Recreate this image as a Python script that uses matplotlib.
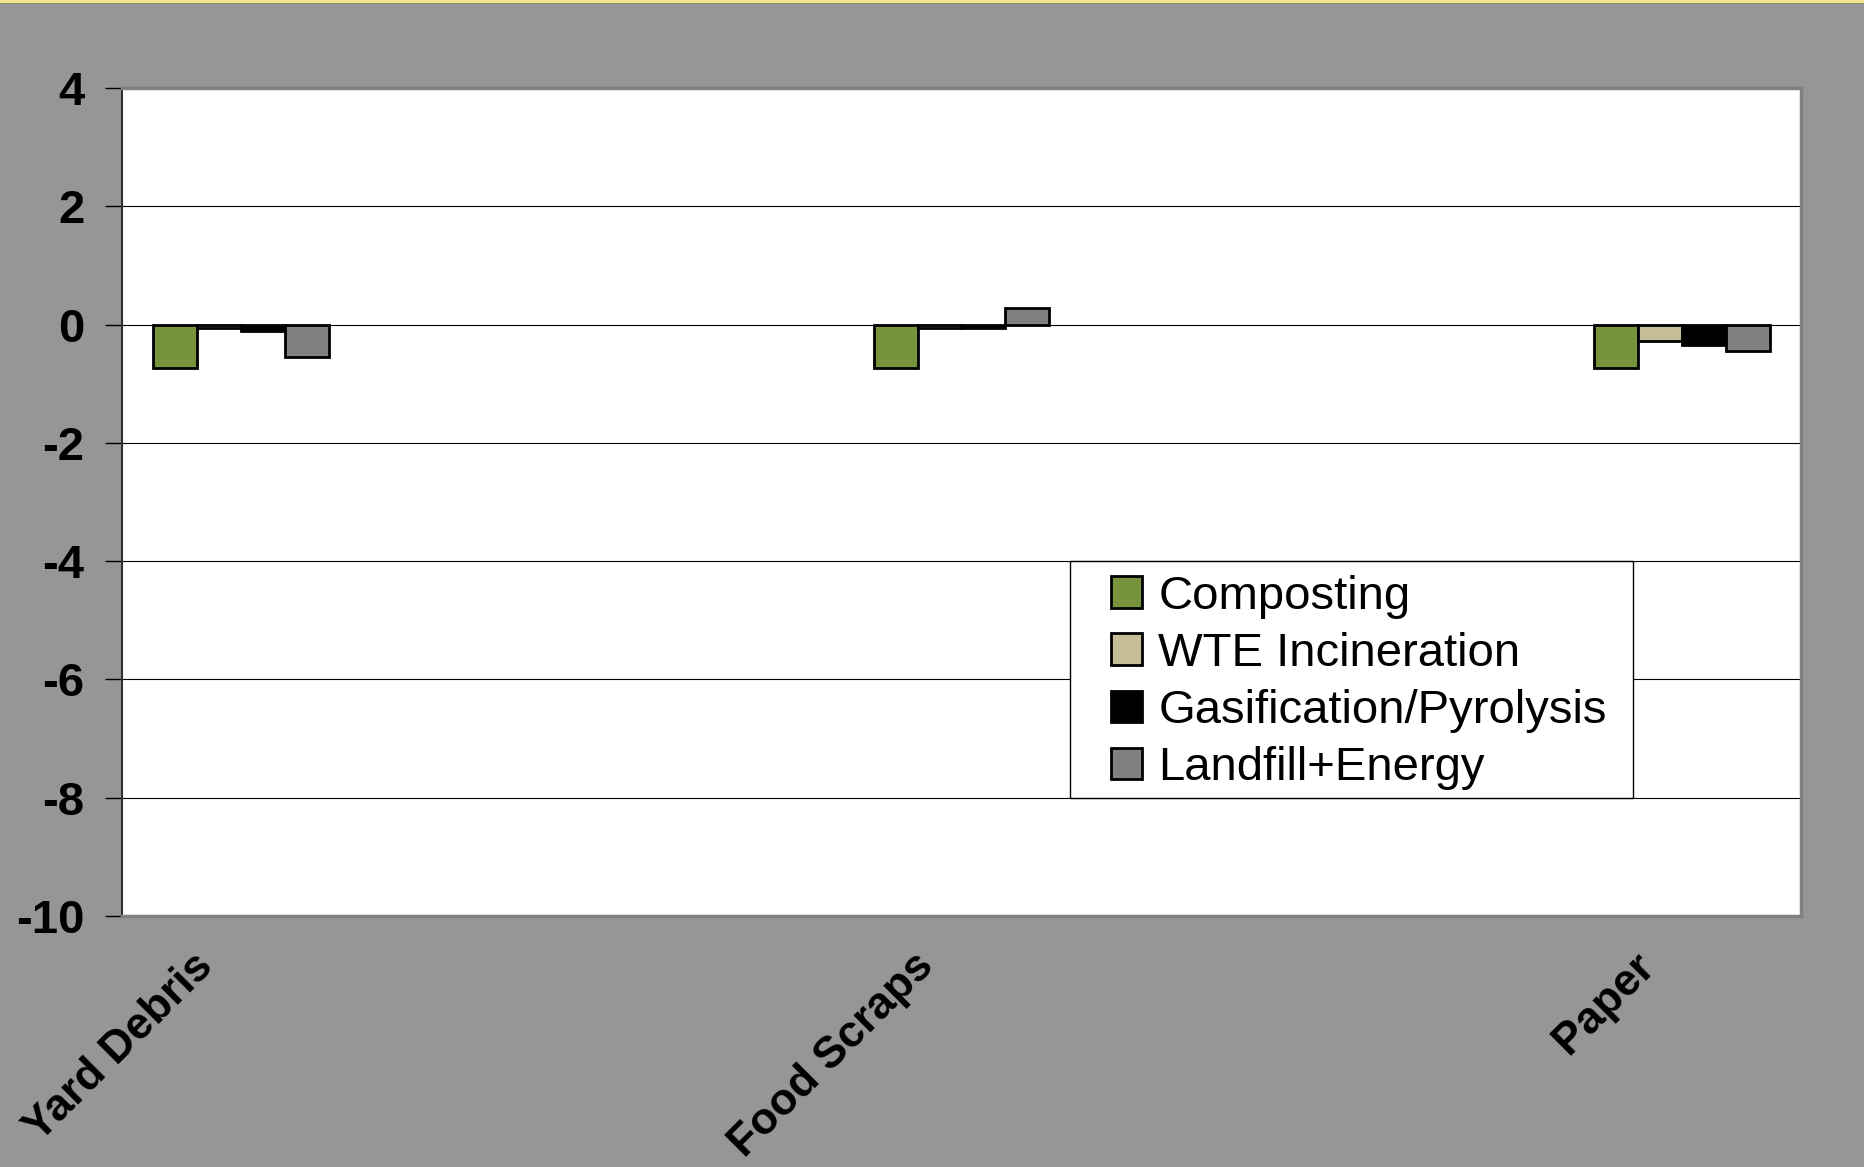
import numpy as np
import matplotlib.pyplot as plt
import matplotlib.transforms as mtransforms
from matplotlib.patches import Rectangle

plt.rcParams['font.family'] = ['Liberation Sans', 'DejaVu Sans']

# data
categories = ["Yard Debris", "Food Scraps", "Paper"]
series_names = ["Composting", "WTE Incineration", "Gasification/Pyrolysis", "Landfill+Energy"]
composting = [-0.74, -0.74, -0.74]
wte = [-0.05, -0.05, -0.28]
gasification = [-0.11, -0.05, -0.35]
landfill = [-0.55, 0.28, -0.44]
colors = ["#77933C", "#C4BD97", "#000000", "#808080"]
y_ticks = [4, 2, 0, -2, -4, -6, -8, -10]

W, H = 1865, 1167
fig = plt.figure(figsize=(W / 100, H / 100), dpi=100)
fig.patch.set_facecolor("#969696")

# thin yellow strip along the top
fig.add_artist(Rectangle((0, 1 - 3 / H), 1, 3 / H, transform=fig.transFigure,
                         facecolor="#F3E58C", edgecolor="none"))
fig.add_artist(Rectangle((0, 1 - 4 / H), 1, 1 / H, transform=fig.transFigure,
                         facecolor="#8a8a70", edgecolor="none"))

ax = fig.add_axes([122 / W, 1 - 916 / H, (1801 - 122) / W, (916 - 88) / H])
ax.set_facecolor("white")

x = np.arange(len(categories))
width = 0.061
all_series = [composting, wte, gasification, landfill]
for i, (vals, name, c) in enumerate(zip(all_series, series_names, colors)):
    ax.bar(x + (i - 1.5) * width, vals, width, color=c, edgecolor="black",
           linewidth=2.0, label=name, zorder=3)

ax.set_xlim(-0.165, 2.165)
ax.set_ylim(-10, 4)
ax.set_yticks(y_ticks)
ax.set_yticklabels([str(t) for t in y_ticks], fontsize=34, fontweight="bold")
ax.tick_params(axis="y", direction="out", length=12, width=1, pad=15, colors="black")
ax.set_xticks(x)
ax.set_xticklabels(categories, rotation=45, ha="right", fontsize=32, fontweight="bold")
ax.tick_params(axis="x", length=0, pad=21)
shift = mtransforms.ScaledTranslation(-20 / 100, 0, fig.dpi_scale_trans)
for lbl in ax.get_xticklabels():
    lbl.set_transform(lbl.get_transform() + shift)

ax.yaxis.grid(True, color="black", linewidth=0.8, zorder=0)
ax.set_axisbelow(True)

for side in ["top", "right", "bottom"]:
    ax.spines[side].set_color("#808080")
    ax.spines[side].set_linewidth(2.5)
ax.spines["left"].set_color("#303030")
ax.spines["left"].set_linewidth(1.5)

# legend frame drawn separately so the inner padding can match
ax.add_patch(Rectangle((0.5646, 0.1425), 0.8999 - 0.5646, 0.4287 - 0.1425,
                       transform=ax.transAxes, facecolor="white", edgecolor="black",
                       linewidth=1.0, zorder=4))
leg = ax.legend(loc="upper left", bbox_to_anchor=(0.589, 0.4124), fontsize=34,
                frameon=False, handlelength=0.65, handleheight=0.65,
                handletextpad=0.35, labelspacing=0.28, borderpad=0, borderaxespad=0)
leg.set_zorder(5)

fig.savefig("out.png", dpi=100, facecolor=fig.get_facecolor())
